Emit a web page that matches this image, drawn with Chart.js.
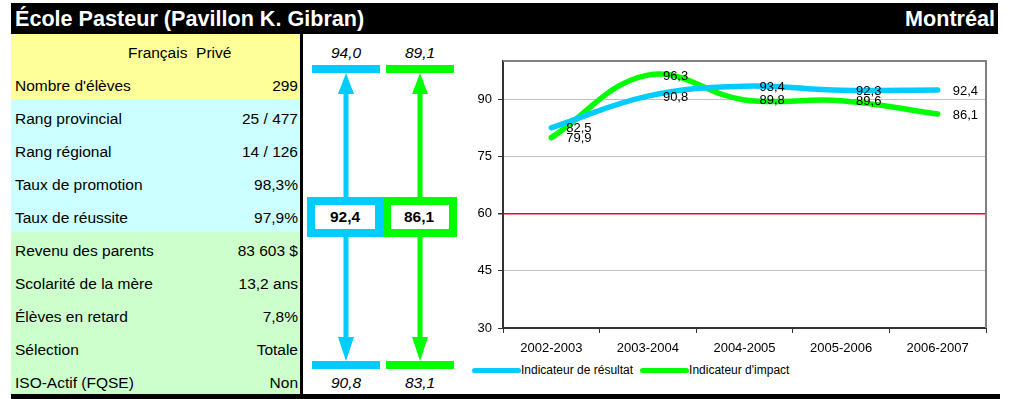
<!DOCTYPE html>
<html>
<head>
<meta charset="utf-8">
<script src="https://cdn.jsdelivr.net/npm/chart.js@4/dist/chart.umd.min.js"></script>
<style>
body{margin:0;background:#fff;font-family:Arial,"Liberation Sans",sans-serif;}
#page{position:relative;width:1011px;height:399px;overflow:hidden;}
#titre{position:absolute;left:11px;top:3px;width:987px;height:31px;background:#000;color:#fff;font-weight:bold;font-size:21.6px;line-height:31px;}
#titre .gauche{position:absolute;left:4px;}
#titre .droite{position:absolute;right:3px;}
#tableau{position:absolute;left:11px;top:34px;width:289px;}
.ligne{height:33px;box-sizing:border-box;padding-top:4px;display:flex;align-items:center;justify-content:space-between;font-size:15.5px;color:#000;}
.ligne span:first-child{padding-left:4px;}
.ligne span:last-child{padding-right:2px;}
#separateur{position:absolute;left:300px;top:34px;width:3px;height:362px;background:#000;}
#bas{position:absolute;left:11px;top:394px;width:989px;height:5px;background:#000;}
#milieu{position:absolute;left:303px;top:34px;}
#graph{position:absolute;left:460px;top:40px;}
#legende{position:absolute;left:472px;top:363px;display:flex;font-size:12px;color:#000;align-items:center;}
#legende .item{display:flex;align-items:center;margin-right:7px;}
#legende .trait{width:49px;height:5px;border-radius:3px;}
</style>
</head>
<body>
<div id="page">
  <div id="titre"><span class="gauche">École Pasteur (Pavillon K. Gibran)</span><span class="droite">Montréal</span></div>
  <div id="tableau"></div>
  <div id="separateur"></div>
  <svg id="milieu" width="157" height="360" viewBox="303 34 157 360"></svg>
  <canvas id="graph" width="540" height="320"></canvas>
  <div id="legende"></div>
  <div id="bas"></div>
</div>
<script>
const annees = ['2002-2003', '2003-2004', '2004-2005', '2005-2006', '2006-2007']
const resultat = [82.5, 90.8, 93.4, 92.3, 92.4]
const impact = [79.9, 96.3, 89.8, 89.6, 86.1]
const graduations = [30, 45, 60, 75, 90]
const seuil = 60

// bornes affichées au-dessus et au-dessous des flèches (résultat, impact)
const bornesHautes = [94.0, 89.1]
const bornesBasses = [90.8, 83.1]

const libelles = ["Nombre d'élèves", 'Rang provincial', 'Rang régional', 'Taux de promotion', 'Taux de réussite',
    'Revenu des parents', 'Scolarité de la mère', 'Élèves en retard', 'Sélection', 'ISO-Actif (FQSE)']
const valeurs = ['299', '25 / 477', '14 / 126', '98,3%', '97,9%', '83 603 $', '13,2 ans', '7,8%', 'Totale', 'Non']

const bleu = '#00CCFF'
const vert = '#00FF00'

function virgule(v){
    return v.toFixed(1).replace('.', ',')
}

// tableau de gauche
const tableau = document.getElementById('tableau')
let html = '<div class="ligne" style="background:#FFFF99;justify-content:flex-start"><span style="padding-left:117px">Français&nbsp; Privé</span></div>'
libelles.forEach((lib, i)=>{
    const fond = i < 1 ? '#FFFF99' : (i < 5 ? '#CCFFFF' : '#CCFFCC')
    html += `<div class="ligne" style="background:${fond}"><span>${lib}</span><span>${valeurs[i]}</span></div>`
})
tableau.innerHTML = html

// colonne des flèches
const svg = document.getElementById('milieu')
const colonnes = [
    {x: 346, couleur: bleu, haut: bornesHautes[0], bas: bornesBasses[0], actuel: resultat[resultat.length-1]},
    {x: 420, couleur: vert, haut: bornesHautes[1], bas: bornesBasses[1], actuel: impact[impact.length-1]}
]
let s = ''
colonnes.forEach(c=>{
    s += `<text x="${c.x}" y="58" text-anchor="middle" font-style="italic" font-size="15.5" fill="#000">${virgule(c.haut)}</text>`
    s += `<rect x="${c.x-34}" y="65" width="68" height="8" fill="${c.couleur}"/>`
    s += `<rect x="${c.x-2.5}" y="90" width="5" height="110" fill="${c.couleur}"/>`
    s += `<polygon points="${c.x},73 ${c.x-8},94 ${c.x+8},94" fill="${c.couleur}"/>`
    s += `<rect x="${c.x-2.5}" y="235" width="5" height="105" fill="${c.couleur}"/>`
    s += `<polygon points="${c.x},361 ${c.x-8},337 ${c.x+8},337" fill="${c.couleur}"/>`
    s += `<rect x="${c.x-34}" y="361" width="68" height="8" fill="${c.couleur}"/>`
    s += `<text x="${c.x}" y="388" text-anchor="middle" font-style="italic" font-size="15.5" fill="#000">${virgule(c.bas)}</text>`
})
s += `<rect x="311" y="201" width="68" height="32" fill="#fff" stroke="${bleu}" stroke-width="8"/>`
s += `<rect x="387" y="201" width="66" height="32" fill="#fff" stroke="${vert}" stroke-width="8"/>`
colonnes.forEach(c=>{
    s += `<text x="${c.x-1}" y="222" text-anchor="middle" font-weight="bold" font-size="15.5" fill="#000">${virgule(c.actuel)}</text>`
})
svg.innerHTML = s

// cadre gris haut et droite de la zone de tracé
const cadre = {
    id: 'cadre',
    beforeDatasetsDraw(chart){
        const {ctx, chartArea} = chart
        ctx.save()
        ctx.strokeStyle = '#808080'
        ctx.lineWidth = 2
        ctx.beginPath()
        ctx.moveTo(chartArea.left, chartArea.top)
        ctx.lineTo(chartArea.right, chartArea.top)
        ctx.lineTo(chartArea.right, chartArea.bottom)
        ctx.stroke()
        ctx.restore()
    }
}

// étiquettes de valeurs à droite des points
const etiquettes = {
    id: 'etiquettes',
    afterDatasetsDraw(chart){
        const ctx = chart.ctx
        ctx.save()
        ctx.font = '13px Arial, "Liberation Sans", sans-serif'
        ctx.fillStyle = '#000'
        ctx.textAlign = 'left'
        ctx.textBaseline = 'middle'
        chart.data.datasets.forEach((ds, i)=>{
            chart.getDatasetMeta(i).data.forEach((pt, j)=>{
                ctx.fillText(virgule(ds.data[j]), pt.x + 15, pt.y + 1)
            })
        })
        ctx.restore()
    }
}

const chart = new Chart(document.getElementById('graph'), {
    type: 'line',
    data: {
        labels: annees,
        datasets: [{
            label: 'Indicateur de résultat',
            data: resultat,
            borderColor: bleu,
            backgroundColor: bleu
        },{
            label: "Indicateur d'impact",
            data: impact,
            borderColor: vert,
            backgroundColor: vert
        }]
    },
    options: {
        responsive: false,
        animation: false,
        layout: {padding: {top: 21, right: 14, left: 0, bottom: 0}},
        elements: {
            line: {borderWidth: 5.5, tension: 0.4, borderCapStyle: 'round', borderJoinStyle: 'round', fill: false},
            point: {radius: 0, hoverRadius: 0}
        },
        plugins: {legend: {display: false}, tooltip: {enabled: false}},
        scales: {
            x: {
                offset: true,
                afterFit: scale=>{ scale.height = 32 },
                grid: {drawOnChartArea: false, offset: true, tickLength: 5, tickColor: '#333'},
                border: {color: '#333', width: 2},
                ticks: {color: '#000', padding: 8, maxRotation: 0, font: {family: 'Arial, "Liberation Sans", sans-serif', size: 13}}
            },
            y: {
                min: 30,
                max: 100,
                afterFit: scale=>{ scale.width = 43 },
                afterBuildTicks: scale=>{ scale.ticks = graduations.concat([100]).map(value=>({value})) },
                grid: {
                    tickLength: 5,
                    color: c=> c.tick.value === seuil ? '#FF0000' : (c.tick.value === 100 ? '#808080' : '#C0C0C0'),
                    lineWidth: c=> c.tick.value === seuil ? 1.5 : (c.tick.value === 100 ? 2 : 1),
                    tickColor: c=> c.tick.value === 100 ? 'rgba(0,0,0,0)' : '#333'
                },
                border: {color: '#333', width: 2},
                ticks: {
                    color: '#000',
                    padding: 6,
                    font: {family: 'Arial, "Liberation Sans", sans-serif', size: 13},
                    callback: v=> graduations.includes(v) ? v : ''
                }
            }
        }
    },
    plugins: [cadre, etiquettes]
})

// légende
document.getElementById('legende').innerHTML = chart.data.datasets.map(ds=>
    `<div class="item"><div class="trait" style="background:${ds.borderColor}"></div><span>${ds.label}</span></div>`
).join('')
</script>
</body>
</html>
